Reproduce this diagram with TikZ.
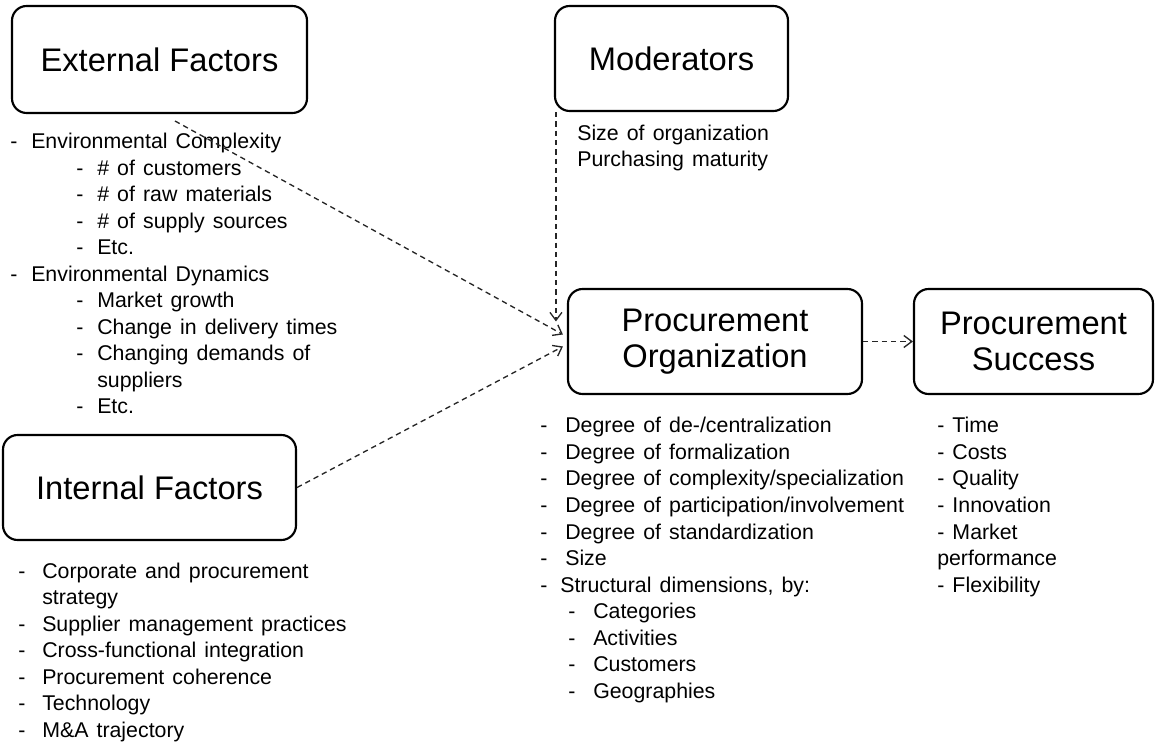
\documentclass[tikz,border=0pt]{standalone}
\usepackage{fontspec}
\setmainfont{Liberation Sans}
\usetikzlibrary{arrows.meta,calc}
\newlength\px
\setlength\px{0.75pt}
\newcommand\mylstfont{\fontsize{16}{18}\selectfont\spaceskip=0.38em plus 0.1em\relax}
\tikzset{
  box/.style={draw=black, line width=1.6pt, rounded corners=11pt, align=center,
    font=\fontsize{24.5}{26.5}\selectfont, inner sep=0pt},
  lst/.style={font=\mylstfont, inner sep=0pt, anchor=base west},
  conn/.style={draw=black!85, line width=1pt, dash pattern=on 4pt off 3pt,
    -{Straight Barb[length=6pt,width=9pt,line width=1pt]}},
}
\newcommand\lstitem[5]{%
  \node[lst] (#1-d) at (#2,#4) {-};
  \node[lst] (#1) at (#3,#4) {#5};}
\begin{document}
\begin{tikzpicture}[x=0.75pt,y=-0.75pt]
\useasboundingbox (0,0) rectangle (1158,745);
% boxes
\node[box, minimum width=295\px, minimum height=107\px] (ext) at (159.5,59.5) {External Factors};
\node[box, minimum width=233\px, minimum height=105\px] (mod) at (671.5,58.5) {Moderators};
\node[box, minimum width=294\px, minimum height=105\px] (org) at (715,341.5) {Procurement\\Organization};
\node[box, minimum width=239\px, minimum height=105\px] (suc) at (1033.5,341.5) {Procurement\\Success};
\node[box, minimum width=293\px, minimum height=105\px] (int) at (149.5,487.5) {Internal Factors};
% external list
\lstitem{e1}{10}{31}{149}{Environmental Complexity}
\lstitem{e2}{76}{97}{175.5}{\# of customers}
\lstitem{e3}{76}{97}{202}{\# of raw materials}
\lstitem{e4}{76}{97}{228.5}{\# of supply sources}
\lstitem{e5}{76}{97}{255}{Etc.}
\lstitem{e6}{10}{31}{281.5}{Environmental Dynamics}
\lstitem{e7}{76}{97}{308}{Market growth}
\lstitem{e8}{76}{97}{334.5}{Change in delivery times}
\lstitem{e9}{76}{97}{361}{Changing demands of}
\node[lst] (e10) at (97,387.5) {suppliers};
\lstitem{e11}{76}{97}{414}{Etc.}
% moderators list
\node[lst] (m1) at (577,141) {Size of organization};
\node[lst] (m2) at (577,167) {Purchasing maturity};
% internal list
\lstitem{i1}{18}{42}{578}{Corporate and procurement}
\node[lst] (i2) at (42,604.5) {strategy};
\lstitem{i3}{18}{42}{631}{Supplier management practices}
\lstitem{i4}{18}{42}{657.5}{Cross-functional integration}
\lstitem{i5}{18}{42}{684}{Procurement coherence}
\lstitem{i6}{18}{42}{710.5}{Technology}
\lstitem{i7}{18}{42}{737}{M\&A trajectory}
% organization list
\lstitem{o1}{540}{565}{433}{Degree of de-/centralization}
\lstitem{o2}{540}{565}{459.5}{Degree of formalization}
\lstitem{o3}{540}{565}{486}{Degree of complexity/specialization}
\lstitem{o4}{540}{565}{512.5}{Degree of participation/involvement}
\lstitem{o5}{540}{565}{539}{Degree of standardization}
\lstitem{o6}{540}{565}{565.5}{Size}
\lstitem{o7}{540}{560}{592}{Structural dimensions, by:}
\lstitem{o8}{568}{593}{618.5}{Categories}
\lstitem{o9}{568}{593}{645}{Activities}
\lstitem{o10}{568}{593}{671.5}{Customers}
\lstitem{o11}{568}{593}{698}{Geographies}
% success list
\node[lst] (s1) at (937,433) {- Time};
\node[lst] (s2) at (937,459.5) {- Costs};
\node[lst] (s3) at (937,486) {- Quality};
\node[lst] (s4) at (937,512.5) {- Innovation};
\node[lst] (s5) at (937,539) {- Market};
\node[lst] (s6) at (937,565.5) {performance};
\node[lst] (s7) at (937,592) {- Flexibility};
% connectors
\coordinate (extout) at (175,121);
\coordinate (modout) at ($(mod.south west)+(2,0)$);
\coordinate (orgin1) at ($(org.west)+(-4,-7)$);
\coordinate (orgin2) at ($(org.west)+(-4,5)$);
\coordinate (orgin3) at ($(org.west)+(-11,-20)$);
\draw[conn] (extout) -- (orgin1);
\draw[conn] (int.east) -- (orgin2);
\draw[conn] (modout) -- (orgin3);
\draw[conn] (org.east) -- (suc.west);
\end{tikzpicture}
\end{document}
